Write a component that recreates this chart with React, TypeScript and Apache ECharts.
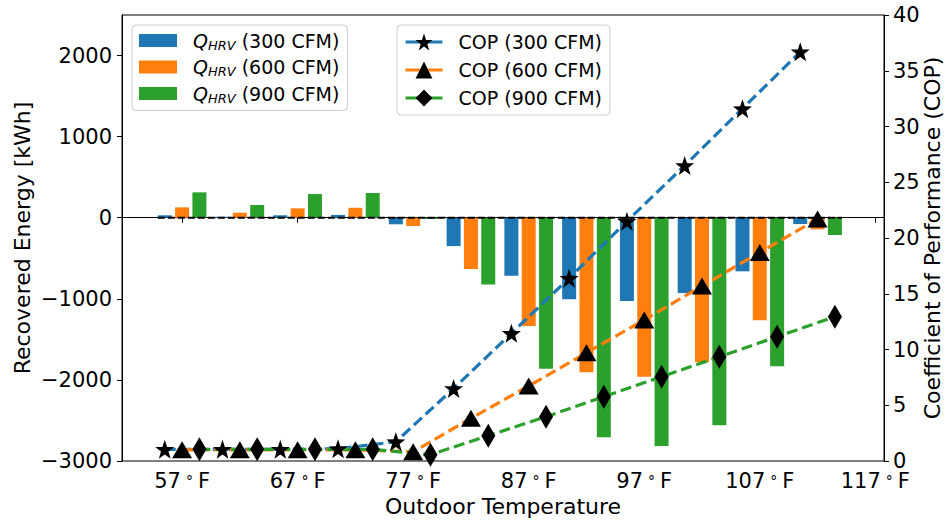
import React, { useEffect, useRef } from "react";
import * as echarts from "echarts";

const temps = [57, 62, 67, 72, 77, 82, 87, 92, 97, 102, 107, 112];
const q300 = [30, 12, 30, 35, -81, -350, -715, -1006, -1027, -928, -661, -78];
const q600 = [128, 62, 116, 123, -102, -633, -1335, -1907, -1960, -1783, -1265, -143];
const q900 = [313, 157, 292, 305, -15, -822, -1862, -2708, -2815, -2560, -1832, -213];
const cop300 = [1.05, 1.05, 1.05, 1.1, 1.73, 6.5, 11.45, 16.4, 21.5, 26.5, 31.6, 36.7];
const cop600 = [1.0, 1.0, 1.0, 1.0, 0.83, 3.83, 6.73, 9.71, 12.65, 15.7, 18.7, 21.7];
const cop900 = [1.05, 1.05, 1.05, 1.05, 0.56, 2.27, 3.97, 5.77, 7.56, 9.35, 11.15, 12.94];
const xTicks = [57, 67, 77, 87, 97, 107, 117];
const yTicks = [-3000, -2000, -1000, 0, 1000, 2000];
const copTicks = [0, 5, 10, 15, 20, 25, 30, 35, 40];

const qNames = ["Q_HRV (300 CFM)", "Q_HRV (600 CFM)", "Q_HRV (900 CFM)"];
const copNames = ["COP (300 CFM)", "COP (600 CFM)", "COP (900 CFM)"];

const BLUE = "#1f77b4";
const ORANGE = "#ff7f0e";
const GREEN = "#2ca02c";
const FONT = "DejaVu Sans";
const FS = 19;
const TICK_FS = 21;
const TITLE_FS = 22;

const STAR =
  "path://M0,-10 L2.35,-3.24 L9.51,-3.09 L3.8,1.24 L5.88,8.09 L0,4 L-5.88,8.09 L-3.8,1.24 L-9.51,-3.09 L-2.35,-3.24 Z";

export default function App() {
  const ref = useRef<HTMLDivElement>(null);
  useEffect(() => {
    if (!ref.current) return;
    const chart = echarts.init(ref.current, null, { renderer: "svg" });
    const offset = 1.5;
    const barSeries = (name: string, vals: number[], dx: number, color: string) => ({
      name,
      type: "bar",
      xAxisIndex: 0,
      yAxisIndex: 0,
      barWidth: 14,
      barGap: "-100%",
      itemStyle: { color },
      data: temps.map((t, i) => [t + dx, vals[i]]),
      z: 2,
    });
    const copSeries = (name: string, vals: number[], dx: number, color: string, symbol: string, size: any) => ({
      name,
      type: "line",
      xAxisIndex: 0,
      yAxisIndex: 1,
      symbol,
      symbolSize: size,
      showAllSymbol: true,
      itemStyle: { color: "#000", opacity: 1 },
      lineStyle: { color, width: 3.2, type: [11, 5] },
      data: temps.map((t, i) => [t + dx, vals[i]]),
      z: 5,
    });
    const legendCommon = {
      orient: "vertical",
      top: 25,
      itemGap: 6,
      padding: [6, 8, 6, 7],
      borderColor: "#cccccc",
      borderWidth: 1,
      borderRadius: 4,
      backgroundColor: "rgba(255,255,255,0.8)",
      selectedMode: false,
    };
    chart.setOption({
      animation: false,
      grid: {
        left: 122,
        right: 64,
        top: 15,
        bottom: 60,
        outerBoundsMode: "none",
        containLabel: false,
        show: true,
        borderColor: "#000",
        borderWidth: 1,
        backgroundColor: "transparent",
      },
      legend: [
        {
          ...legendCommon,
          left: 132,
          itemWidth: 38,
          itemHeight: 13,
          data: qNames.map((n) => ({ name: n, icon: "rect" })),
          formatter: (n: string) => "{q|Q}{s|HRV}{t|" + n.replace("Q_HRV", "") + "}",
          textStyle: {
            padding: [0, 0, 0, 11],
            color: "#000",
            fontFamily: FONT,
            fontSize: FS,
            rich: {
              q: { fontFamily: FONT, fontSize: FS, fontStyle: "italic", lineHeight: 22, color: "#000" },
              s: { fontFamily: FONT, fontSize: 13, fontStyle: "italic", verticalAlign: "bottom", lineHeight: 16, color: "#000" },
              t: { fontFamily: FONT, fontSize: FS, lineHeight: 22, color: "#000" },
            },
          },
        },
        {
          ...legendCommon,
          left: 397,
          itemWidth: 37,
          itemHeight: 21,
          data: copNames,
          lineStyle: { type: "solid", width: 3 },
          textStyle: { padding: [0, 0, 0, 11], color: "#000", fontFamily: FONT, fontSize: FS, lineHeight: 22 },
        },
      ],
      xAxis: {
        type: "value",
        min: 51.8,
        max: 117.75,
        name: "Outdoor Temperature",
        nameLocation: "middle",
        nameGap: 34,
        nameMoveOverlap: false,
        nameTextStyle: { fontFamily: FONT, fontSize: TITLE_FS, color: "#000" },
        axisLine: { lineStyle: { color: "#000", width: 1 } },
        axisTick: { customValues: xTicks, length: 5, lineStyle: { color: "#000" } },
        axisLabel: {
          customValues: xTicks,
          margin: 9,
          formatter: (v: number) => v + "{d|°}F",
          fontFamily: FONT,
          fontSize: TICK_FS,
          color: "#000",
          rich: { d: { fontFamily: FONT, fontSize: 14, padding: [0, 5, 0, 5], color: "#000" } },
        },
        splitLine: { show: false },
      },
      yAxis: [
        {
          type: "value",
          min: -3000,
          max: 2500,
          name: "Recovered Energy [kWh]",
          nameLocation: "middle",
          nameRotate: 90,
          nameGap: 89,
          nameMoveOverlap: false,
          nameTextStyle: { fontFamily: FONT, fontSize: TITLE_FS, color: "#000" },
          axisLine: { show: true, lineStyle: { color: "#000", width: 1 } },
          axisTick: { show: true, customValues: yTicks, length: 5, lineStyle: { color: "#000" } },
          axisLabel: {
            customValues: yTicks,
            margin: 10,
            lineHeight: 17,
            formatter: (v: number) => (v < 0 ? "\u2212" + Math.abs(v) : String(v)),
            fontFamily: FONT,
            fontSize: TICK_FS,
            color: "#000",
          },
          splitLine: { show: false },
        },
        {
          type: "value",
          min: 0,
          max: 40,
          position: "right",
          name: "Coefficient of Performance (COP)",
          nameLocation: "middle",
          nameRotate: 90,
          nameGap: 37,
          nameMoveOverlap: false,
          nameTextStyle: { fontFamily: FONT, fontSize: TITLE_FS, color: "#000" },
          axisLine: { show: true, lineStyle: { color: "#000", width: 1 } },
          axisTick: { show: true, customValues: copTicks, length: 5, lineStyle: { color: "#000" } },
          axisLabel: { customValues: copTicks, margin: 9, lineHeight: 17, fontFamily: FONT, fontSize: TICK_FS, color: "#000" },
          splitLine: { show: false },
        },
      ],
      series: [
        barSeries(qNames[0], q300, -offset, BLUE),
        barSeries(qNames[1], q600, 0, ORANGE),
        barSeries(qNames[2], q900, offset, GREEN),
        {
          name: "zero",
          type: "line",
          xAxisIndex: 0,
          yAxisIndex: 0,
          symbol: "none",
          lineStyle: { color: "#000", width: 2.2, type: [7, 3] },
          data: [
            [temps[0] - offset - 0.6, 0],
            [temps[temps.length - 1] + offset + 0.6, 0],
          ],
          z: 3,
        },
        copSeries(copNames[0], cop300, -offset, BLUE, STAR, 19),
        copSeries(copNames[1], cop600, 0, ORANGE, "triangle", [20, 17]),
        copSeries(copNames[2], cop900, offset, GREEN, "diamond", [14, 24]),
      ],
    });
    return () => chart.dispose();
  }, []);
  return <div ref={ref} style={{ width: 948, height: 521, position: "absolute", left: 0, top: 0 }} />;
}
